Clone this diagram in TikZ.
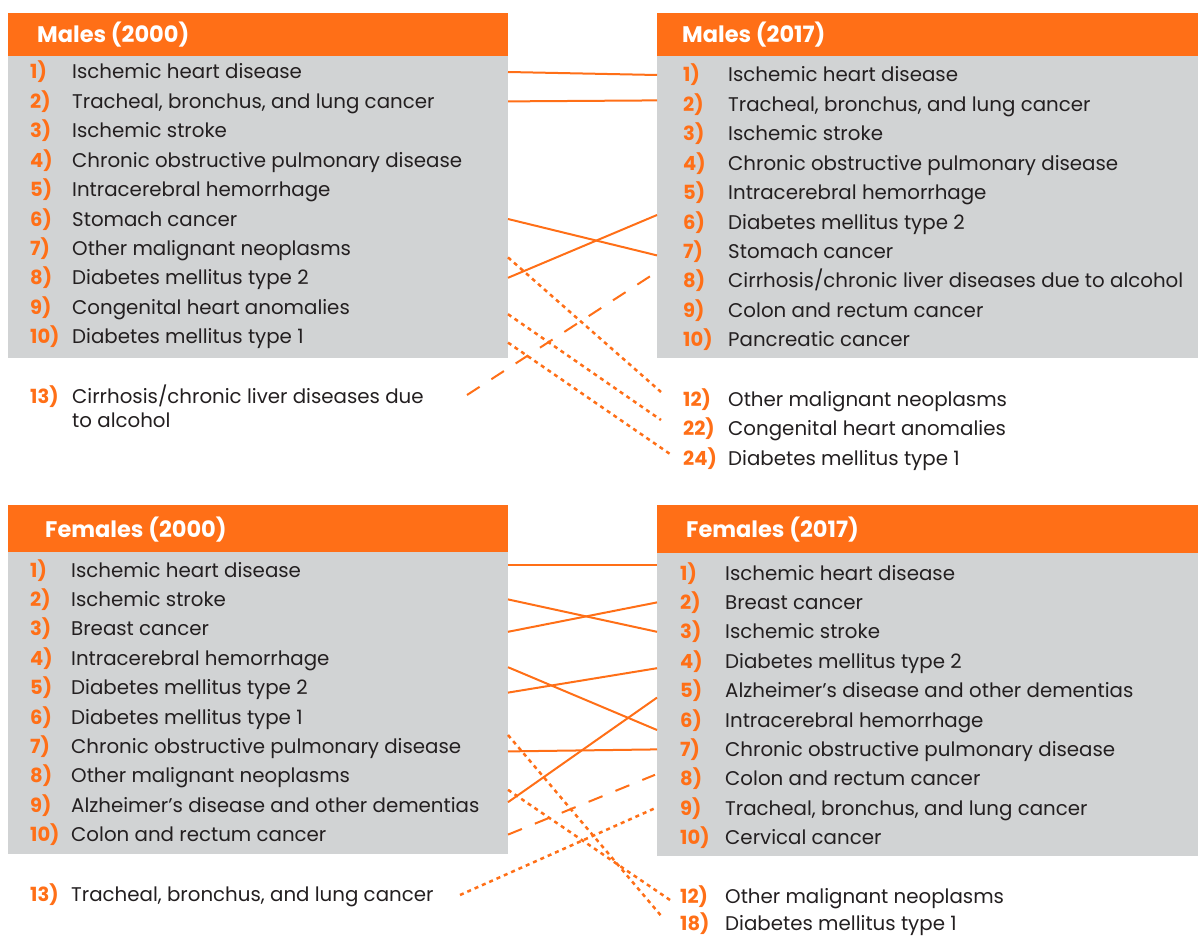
\documentclass[tikz,border=0pt]{standalone}
\usepackage{fontspec}
\setmainfont{Poppins}
\usetikzlibrary{calc}
\definecolor{rankorange}{HTML}{FF6F17}
\definecolor{panelgrey}{HTML}{D1D3D4}
\definecolor{ink}{HTML}{231F20}
\tikzset{
  headbar/.style={fill=rankorange, inner sep=0pt, outer sep=0pt, anchor=north west},
  listbox/.style={fill=panelgrey, inner sep=0pt, outer sep=0pt, anchor=north west},
  title/.style={text=white, font=\fontsize{22.5}{22.5}\selectfont\bfseries, inner sep=0pt, anchor=base west},
  rank/.style={text=rankorange, font=\fontsize{19.5}{19.5}\selectfont\bfseries, inner sep=0pt, anchor=west, text height=14pt, text depth=0pt},
  cause/.style={text=ink, font=\fontsize{19.8}{24}\selectfont, inner sep=0pt, anchor=west, text height=14pt, text depth=0pt},
  link/.style={draw=rankorange, line width=2pt},
  newlink/.style={link, dash pattern=on 15pt off 14pt},
  droplink/.style={link, line width=2.5pt, dash pattern=on 4pt off 4pt},
}
\begin{document}
\begin{tikzpicture}[x=1pt,y=-1pt]
\useasboundingbox (0,0) rectangle (1198,936);
% panels
\node[headbar, minimum width=500pt, minimum height=43pt] (m00head) at (8,13) {};
\node[listbox, minimum width=500pt, minimum height=302pt] (m00box) at (8,56) {};
\node[headbar, minimum width=541pt, minimum height=43pt] (m17head) at (657,13) {};
\node[listbox, minimum width=541pt, minimum height=302pt] (m17box) at (657,56) {};
\node[headbar, minimum width=500pt, minimum height=47pt] (f00head) at (8,505) {};
\node[listbox, minimum width=500pt, minimum height=302pt] (f00box) at (8,552) {};
\node[headbar, minimum width=541pt, minimum height=48pt] (f17head) at (657,505) {};
\node[listbox, minimum width=541pt, minimum height=303pt] (f17box) at (657,553) {};
\node[title] (m00title) at (37,43) {Males (2000)};
\node[title] (m17title) at (682,43) {Males (2017)};
\node[title] (f00title) at (45,537) {Females (2000)};
\node[title] (f17title) at (686,537) {Females (2017)};

% males 2000
\foreach \t [count=\i] in {Ischemic heart disease, {Tracheal, bronchus, and lung cancer}, Ischemic stroke,
  Chronic obstructive pulmonary disease, Intracerebral hemorrhage, Stomach cancer,
  Other malignant neoplasms, Diabetes mellitus type 2, Congenital heart anomalies, Diabetes mellitus type 1}
{
  \node[rank] (m00n\i) at (30,{72+29.4*(\i-1)}) {\i)};
  \node[cause] (m00-\i) at (72,{72+29.4*(\i-1)}) {\t};
}
\node[rank] (m00n13) at (30,396) {13)};
\node[cause, align=left, text height=, text depth=, anchor=base west] (m00-13) at (72,427)
  {Cirrhosis/chronic liver diseases due\\to alcohol};

% males 2017
\foreach \t [count=\i] in {Ischemic heart disease, {Tracheal, bronchus, and lung cancer}, Ischemic stroke,
  Chronic obstructive pulmonary disease, Intracerebral hemorrhage, Diabetes mellitus type 2,
  Stomach cancer, Cirrhosis/chronic liver diseases due to alcohol, Colon and rectum cancer, Pancreatic cancer}
{
  \node[rank] (m17n\i) at (683,{75+29.4*(\i-1)}) {\i)};
  \node[cause] (m17-\i) at (728,{75+29.4*(\i-1)}) {\t};
}
\foreach \r/\t/\y in {12/Other malignant neoplasms/399, 22/Congenital heart anomalies/428, 24/Diabetes mellitus type 1/458}
{
  \node[rank] (m17n\r) at (683,\y) {\r)};
  \node[cause] (m17-\r) at (728,\y) {\t};
}

% females 2000
\foreach \t [count=\i] in {Ischemic heart disease, Ischemic stroke, Breast cancer, Intracerebral hemorrhage,
  Diabetes mellitus type 2, Diabetes mellitus type 1, Chronic obstructive pulmonary disease,
  Other malignant neoplasms, Alzheimer’s disease and other dementias, Colon and rectum cancer}
{
  \node[rank] (f00n\i) at (30,{570+29.4*(\i-1)}) {\i)};
  \node[cause] (f00-\i) at (71,{570+29.4*(\i-1)}) {\t};
}
\node[rank] (f00n13) at (30,894) {13)};
\node[cause] (f00-13) at (71,894) {Tracheal, bronchus, and lung cancer};

% females 2017
\foreach \t [count=\i] in {Ischemic heart disease, Breast cancer, Ischemic stroke, Diabetes mellitus type 2,
  Alzheimer’s disease and other dementias, Intracerebral hemorrhage, Chronic obstructive pulmonary disease,
  Colon and rectum cancer, {Tracheal, bronchus, and lung cancer}, Cervical cancer}
{
  \node[rank] (f17n\i) at (680,{573+29.4*(\i-1)}) {\i)};
  \node[cause] (f17-\i) at (725,{573+29.4*(\i-1)}) {\t};
}
\foreach \r/\t/\y in {12/Other malignant neoplasms/896, 18/Diabetes mellitus type 1/923}
{
  \node[rank] (f17n\r) at (680,\y) {\r)};
  \node[cause] (f17-\r) at (725,\y) {\t};
}

% rank changes, males
\draw[link] (m00box.east |- m00-1) -- (m17box.west |- m17-1);
\draw[link] (m00box.east |- m00-2) -- ($(m17box.west |- m17-2)+(0,-4)$);
\draw[link] (m00box.east |- m00-6) -- ($(m17box.west |- m17-7)+(0,4)$);
\draw[link] (m00box.east |- m00-8) -- ($(m17box.west |- m17-6)+(0,-7)$);
\draw[newlink] ($(m00box.east |- m00n13)+(-41,-1)$) -- ($(m17box.west |- m17-8)+(0,-9)$);
\draw[droplink] ($(m00box.east |- m00-7)+(0,9)$) -- ($(m17n12.west)+(-22,-7)$);
\draw[droplink] ($(m00box.east |- m00-9)+(0,7)$) -- ($(m17n22.west)+(-22,-8)$);
\draw[droplink] ($(m00box.east |- m00-10)+(0,6)$) -- ($(m17n24.west)+(-13,-4)$);

% rank changes, females
\draw[link] ($(f00box.east |- f00-1)+(0,-5)$) -- ($(f17box.west |- f17-1)+(0,-8)$);
\draw[link] (f00box.east |- f00-2) -- (f17box.west |- f17-3);
\draw[link] ($(f00box.east |- f00-3)+(0,3)$) -- (f17box.west |- f17-2);
\draw[link] ($(f00box.east |- f00-4)+(0,9)$) -- ($(f17box.west |- f17-6)+(0,10)$);
\draw[link] ($(f00box.east |- f00-5)+(0,5)$) -- ($(f17box.west |- f17-4)+(0,7)$);
\draw[link] ($(f00box.east |- f00-7)+(0,5)$) -- (f17box.west |- f17-7);
\draw[link] ($(f00box.east |- f00-9)+(0,-3)$) -- ($(f17box.west |- f17-5)+(0,7)$);
\draw[newlink] (f00box.east |- f00-10) -- ($(f17box.west |- f17-8)+(-2,-4)$);
\draw[droplink] ($(f00box.east |- f00n13)+(-48,1)$) -- ($(f17box.west |- f17-9)+(-2,0)$);
\draw[droplink] ($(f00box.east |- f00-6)+(0,18)$) -- ($(f17n18.west)+(-17,-5)$);
\draw[droplink] ($(f00box.east |- f00-8)+(0,14)$) -- ($(f17n12.west)+(-10,4)$);
\end{tikzpicture}
\end{document}
